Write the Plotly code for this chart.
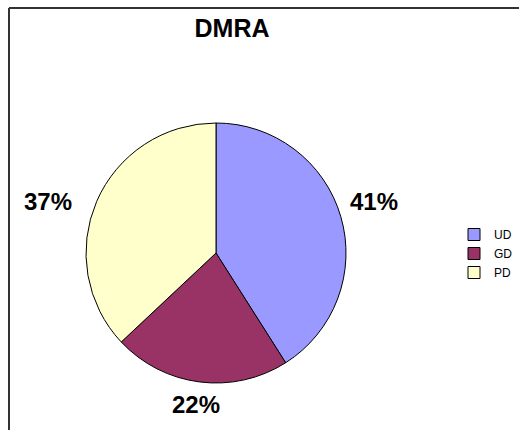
import plotly.graph_objects as go

categories = ["UD", "GD", "PD"]
values = [41, 22, 37]
colors = ["#9999FF", "#993366", "#FFFFCC"]
title_text = "DMRA"

W, H = 519, 430
FONT = "Arial, 'Liberation Sans', sans-serif"

def px(x):
    return x / W

def py(y):
    return 1 - y / H

fig = go.Figure(go.Pie(
    labels=categories,
    values=values,
    marker=dict(colors=colors, line=dict(color="#000000", width=1)),
    sort=False,
    direction="clockwise",
    rotation=0,
    textinfo="none",
    hoverinfo="label+percent",
    domain=dict(x=[px(86), px(346)], y=[py(383), py(123)]),
))

# percentage labels, text from the values
total = sum(values)
label_pos = [(374, 201), (196, 404), (48, 201)]
for v, (lx, ly) in zip(values, label_pos):
    fig.add_annotation(
        x=px(lx), y=py(ly), xref="paper", yref="paper",
        text="<b>%d%%</b>" % round(100 * v / total),
        showarrow=False, xanchor="center", yanchor="middle",
        font=dict(family=FONT, size=24, color="#000000"),
    )

# chart-area border (left and top edges visible)
fig.add_shape(type="line", xref="paper", yref="paper",
              x0=px(9), y0=0, x1=px(9), y1=py(8),
              line=dict(color="#333333", width=2))
fig.add_shape(type="line", xref="paper", yref="paper",
              x0=px(9), y0=py(8), x1=1.0, y1=py(8),
              line=dict(color="#333333", width=2))

fig.update_layout(
    width=W, height=H,
    margin=dict(l=0, r=0, t=0, b=0),
    paper_bgcolor="#FFFFFF",
    plot_bgcolor="#FFFFFF",
    title=dict(text="<b>%s</b>" % title_text, x=px(232), y=py(28),
               xanchor="center", yanchor="middle",
               font=dict(family=FONT, size=25, color="#000000")),
    showlegend=True,
    legend=dict(x=px(454), y=py(220), xanchor="left", yanchor="top",
                font=dict(family=FONT, size=12, color="#000000"),
                bgcolor="rgba(0,0,0,0)", itemclick=False),
)

fig.write_html("out.html",
               config={"displayModeBar": False},
               post_script="document.body.style.margin='0px';document.body.style.overflow='hidden';")
